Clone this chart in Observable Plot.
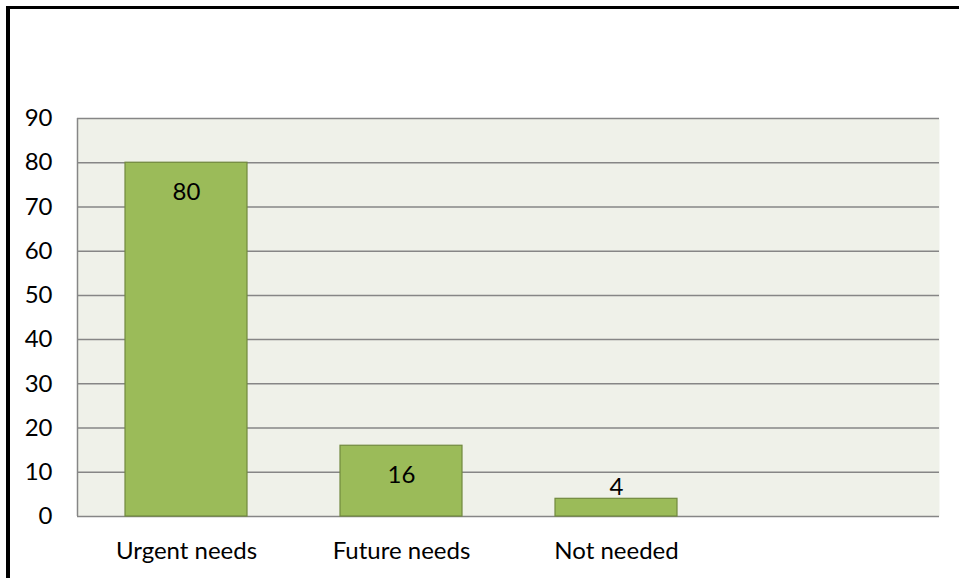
<!DOCTYPE html>
<html>
<head>
<meta charset="utf-8">
<script src="https://cdn.jsdelivr.net/npm/d3@7"></script>
<script src="https://cdn.jsdelivr.net/npm/@observablehq/plot@0.6"></script>
<style>
  html, body { margin: 0; padding: 0; background: #fff; }
  #wrap { position: relative; width: 959px; height: 578px; overflow: hidden; }
  #frame { position: absolute; left: 6px; top: 6px; width: 960px; height: 580px;
           border-left: 4px solid #000; border-top: 3px solid #000; box-sizing: border-box; }
  #chart { position: absolute; left: 0; top: 0; }
</style>
</head>
<body>
<div id="wrap"><div id="frame"></div><div id="chart"></div></div>
<script>
const categories = ["Urgent needs", "Future needs", "Not needed", ""];
const values = [80, 16, 4, null];
const yTicks = [0, 10, 20, 30, 40, 50, 60, 70, 80, 90];

const data = categories.map((c, i) => ({ category: c, value: values[i] }));
const bars = data.filter(d => d.value != null);

const font = "Lato, 'Open Sans', sans-serif";
const fs = 24;

const chart = Plot.plot({
  width: 959,
  height: 578,
  marginLeft: 77,
  marginRight: 20,
  marginTop: 118,
  marginBottom: 62,
  style: { fontFamily: font, fontSize: fs + "px", color: "#000", background: "transparent" },
  x: { domain: categories, paddingInner: 0.434, paddingOuter: 0.217, label: null },
  y: { domain: [0, 90], ticks: yTicks, label: null },
  marks: [
    Plot.frame({ fill: "#EFF1E9", stroke: null }),
    Plot.ruleY(yTicks, { stroke: "#868686", strokeWidth: 1.5, strokeOpacity: 1 }),
    Plot.barY(bars, { x: "category", y: "value", fill: "#9BBB59", stroke: "#71893F", strokeWidth: 1.2 }),
    Plot.text(bars, {
      x: "category", y: "value", text: d => String(d.value),
      fontSize: fs, fill: "#000",
      filter: d => d.value >= 10, dy: 30
    }),
    Plot.text(bars, {
      x: "category", y: "value", text: d => String(d.value),
      fontSize: fs, fill: "#000",
      filter: d => d.value < 10, dy: -11
    }),
    Plot.axisY({ ticks: yTicks, tickSize: 0, tickPadding: 25, fontSize: fs, label: null }),
    Plot.axisX({ tickSize: 0, tickPadding: 25, fontSize: fs, label: null })
  ]
});

// left edge line of plot area
const svg = d3.select(chart);
svg.append("line").attr("x1", 77.5).attr("x2", 77.5).attr("y1", 118).attr("y2", 516)
  .attr("stroke", "#868686").attr("stroke-width", 1.5);

document.getElementById("chart").appendChild(chart);
</script>
</body>
</html>
